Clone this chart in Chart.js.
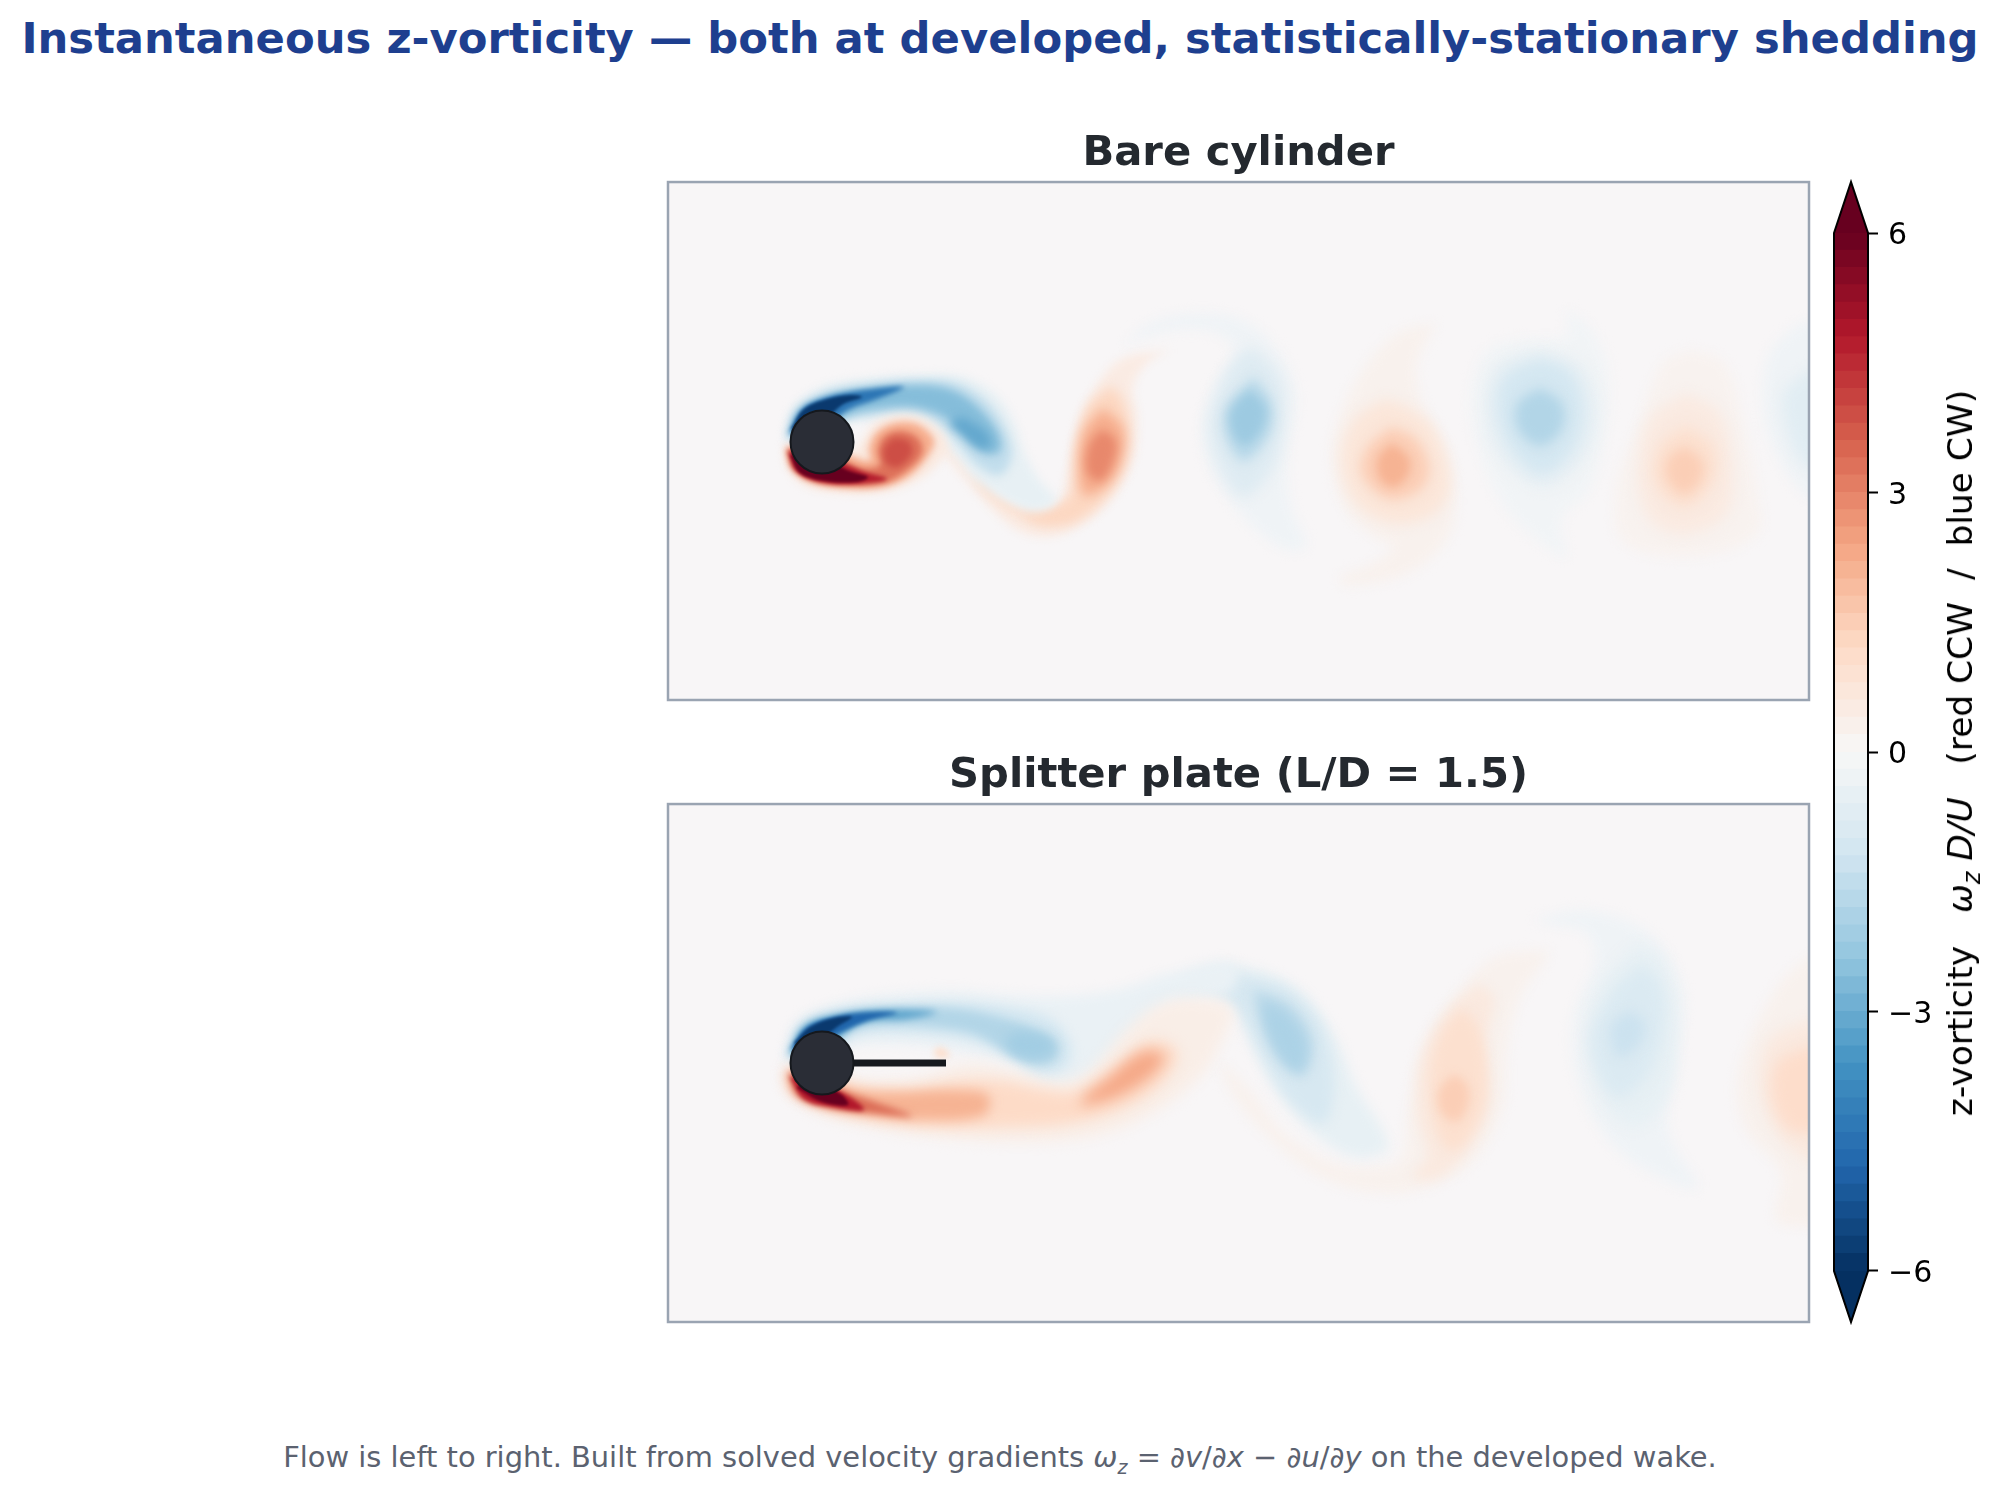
<!DOCTYPE html>
<html><head><meta charset="utf-8">
<script src="https://cdn.jsdelivr.net/npm/chart.js@4"></script>
<style>
html,body{margin:0;padding:0;background:#fff;width:2000px;height:1494px;overflow:hidden;font-family:"DejaVu Sans"}
canvas{position:absolute}
.t{position:absolute;white-space:nowrap}
#sup{left:0;width:2000px;text-align:center;top:15px;font-size:43.3px;font-weight:bold;color:#1e3f8f;line-height:46px}
#foot{left:0;width:2000px;text-align:center;top:1441px;font-size:28.9px;color:#5b6270;line-height:32px}
#foot sub{font-size:19px;line-height:0}
#cb{left:1960px;top:753px;transform:translate(-50%,-50%) rotate(-90deg);font-size:34.4px;color:#000;line-height:36px}
#cb sub{font-size:24px;line-height:0}
</style></head><body>
<div id="sup" class="t">Instantaneous z-vorticity — both at developed, statistically-stationary shedding</div>
<canvas id="p1" width="1145" height="578" style="left:666px;top:124px"></canvas>
<canvas id="p2" width="1145" height="578" style="left:666px;top:746px"></canvas>
<canvas id="c" width="130" height="1170" style="left:1830px;top:170px"></canvas>
<div id="cb" class="t">z-vorticity&nbsp;&nbsp;&nbsp;<i>ω<sub>z</sub> D/U</i>&nbsp;&nbsp;&nbsp;(red CCW&nbsp;&nbsp;/&nbsp;&nbsp;blue CW)</div>
<div id="foot" class="t">Flow is left to right. Built from solved velocity gradients <i>ω<sub>z</sub></i> = ∂<i>v</i>/∂<i>x</i> − ∂<i>u</i>/∂<i>y</i> on the developed wake.</div>
<script>
/* Colour-bar */
const cbLevels=[-6,-5.8,-5.6,-5.4,-5.2,-5,-4.8,-4.6,-4.4,-4.2,-4,-3.8,-3.6,-3.4,-3.2,-3,-2.8,-2.6,-2.4,-2.2,-2,-1.8,-1.6,-1.4,-1.2,-1,-0.8,-0.6,-0.4,-0.2,0,0.2,0.4,0.6,0.8,1,1.2,1.4,1.6,1.8,2,2.2,2.4,2.6,2.8,3,3.2,3.4,3.6,3.8,4,4.2,4.4,4.6,4.8,5,5.2,5.4,5.6,5.8,6];
const cbTicks=[-6,-3,0,3,6];
const rdbuStops=['#053061','#2166ac','#4393c3','#92c5de','#d1e5f0','#f7f7f7','#fddbc7','#f4a582','#d6604d','#b2182b','#67001f'];

/* Panel 1: bare cylinder — contour outlines, grid units */
const bareBlueA=[[112,258],[120,226],[150,204],[198,195],[248,192],[288,193],[322,210],[342,238],[352,268],[366,295],[384,318],[362,328],[332,316],[305,298],[285,274],[266,254],[243,240],[215,238],[190,238],[170,240],[150,250],[130,256]];
const bareBlueB=[[115,256],[124,228],[152,210],[198,201],[248,197],[284,200],[314,218],[333,245],[340,272],[328,292],[305,282],[281,255],[256,235],[230,230],[198,232],[175,236],[150,248],[130,254]];
const bareBlueC=[[116,254],[127,228],[155,213],[200,205],[248,202],[280,207],[306,224],[326,250],[328,268],[312,270],[292,250],[270,233],[240,224],[205,226],[178,232],[150,246],[130,252]];
const bareBlueCore=[[291,234],[315,250],[318,264],[305,264],[288,250],[278,239]];
const bareBlueD=[[117,250],[130,226],[155,214],[191,207],[232,204],[205,216],[178,226],[150,244],[130,250]];
const bareBlueE=[[119,246],[132,226],[155,216],[178,212],[190,214],[170,222],[150,240],[130,248]];
const bareRedA=[[112,262],[115,284],[134,303],[170,310],[205,310],[233,303],[260,287],[275,264],[268,247],[248,234],[225,232],[203,240],[190,258],[180,270],[150,270],[130,265]];
const bareRedB=[[114,264],[120,285],[140,299],[175,305],[210,304],[236,294],[256,273],[262,257],[245,241],[222,240],[204,250],[197,265],[198,278],[170,270],[140,265]];
const bareRedC=[[115,266],[122,286],[144,298],[178,302],[212,300],[234,288],[250,270],[246,255],[228,248],[212,254],[206,268],[208,282],[190,285],[160,272],[135,266]];
const bareRedCore=[[221,255],[236,258],[240,270],[226,284],[214,280],[212,266]];
const bareRedD=[[116,268],[124,288],[148,299],[185,301],[215,296],[190,288],[160,275],[135,268]];
const bareRedE=[[118,272],[128,290],[152,298],[185,299],[196,294],[175,287],[155,275],[135,270]];
const bareRed2A=[[498,167],[448,177],[418,214],[405,250],[395,294],[388,320],[358,325],[328,314],[305,290],[285,267],[270,257],[265,260],[291,294],[318,324],[345,347],[375,354],[405,344],[438,317],[461,277],[465,234],[461,204],[475,180]];
const bareSheet=[[308,287],[331,314],[361,327],[388,324],[401,310],[398,330],[375,339],[348,334],[325,320],[305,299]];
const bareRed2B=[[438,203],[415,225],[403,267],[398,314],[375,328],[351,333],[375,343],[407,337],[438,309],[454,276],[456,237],[448,212]];
const bareRed2C=[[431,225],[412,248],[407,284],[412,312],[433,304],[449,279],[451,245]];
const bareRed2D=[[430,246],[417,262],[415,289],[428,298],[440,282],[444,258]];
const bareBlue3A=[[450,164],[478,140],[530,130],[577,140],[610,174],[624,214],[615,274],[619,324],[634,364],[610,365],[572,334],[539,287],[530,240],[544,200],[563,170],[544,150],[506,147],[473,154]];
const bareBlue3B=[[582,164],[608,194],[612,240],[601,284],[572,314],[549,287],[537,244],[549,200],[565,174]];
const bareBlue3C=[[582,194],[600,220],[598,250],[572,278],[554,254],[554,224]];
const bareBlue3D=[[577,207],[593,224],[589,247],[572,262],[560,247],[560,227]];
const bareRed4A=[[764,140],[726,150],[693,184],[669,230],[660,274],[674,327],[702,354],[721,364],[702,380],[667,395],[674,402],[726,394],[764,370],[782,337],[778,280],[749,217],[745,180]];
const bareRed4B=[[712,216],[681,238],[669,280],[685,322],[726,341],[767,327],[778,294],[762,245],[735,224]];
const bareRed4C=[[719,244],[695,265],[690,292],[716,316],[748,307],[757,284],[743,255]];
const bareRed4D=[[720,260],[706,275],[708,296],[722,304],[736,292],[737,275]];
const bareBlue5A=[[894,125],[922,150],[936,190],[934,247],[917,307],[889,337],[894,374],[875,364],[837,330],[809,274],[799,217],[813,170],[846,157],[894,154],[896,140]];
const bareBlue5B=[[868,166],[825,182],[813,220],[825,269],[870,304],[911,276],[925,230],[911,185]];
const bareBlue5C=[[868,176],[834,192],[825,224],[839,266],[870,291],[901,266],[911,224],[897,188]];
const bareBlue5D=[[868,205],[846,220],[846,246],[868,263],[890,246],[890,220]];
const bareRed6A=[[1019,167],[991,180],[967,240],[944,307],[953,360],[1024,374],[1085,350],[1085,307],[1071,240],[1052,180]];
const bareRed6B=[[1014,210],[978,235],[966,294],[978,337],[1014,351],[1055,330],[1060,274],[1046,228]];
const bareRed6C=[[1014,243],[988,262],[983,299],[1012,324],[1041,299],[1041,262]];
const bareRed6D=[[1012,263],[995,278],[997,299],[1013,311],[1029,297],[1030,278]];
const bareBlue7A=[[1127,140],[1098,170],[1091,220],[1103,267],[1136,314],[1170,314],[1170,140]];
const bareBlue7B=[[1136,187],[1112,210],[1117,254],[1136,284],[1170,284],[1170,187]];
const bareContours=[bareBlue3A,bareBlue3B,bareBlue3C,bareBlue3D,bareRed4A,bareRed4B,bareRed4C,bareRed4D,bareBlue5A,bareBlue5B,bareBlue5C,bareBlue5D,bareRed6A,bareRed6B,bareRed6C,bareRed6D,bareBlue7A,bareBlue7B,bareRed2A,bareSheet,bareRed2B,bareRed2C,bareRed2D,bareBlueA,bareBlueB,bareBlueC,bareBlueCore,bareBlueD,bareBlueE,bareRedA,bareRedB,bareRedC,bareRedCore,bareRedD,bareRedE];
const bareLevels=[-0.25,-0.8,-1.7,-2.2,0.25,0.75,1.5,2.1,-0.2,-0.55,-1.1,-1.8,0.2,0.55,1,1.5,-0.25,-0.7,0.5,1,1.3,2.2,2.9,-0.5,-1.5,-2.6,-3.1,-4.4,-5.8,0.6,2.2,3.3,3.9,4.7,6];
const bareBlur=[6,7,6,5,6,7,6,5,6,7,7,6,6,7,7,6,6,7,5,5,6,6,5,5,5,4.5,5,2.5,1.5,4,3.5,3,3,2,1.5];

/* Panel 2: splitter plate */
const plateBlueA=[[112,255],[124,218],[160,200],[212,190],[284,186],[337,190],[391,191],[444,185],[498,168],[560,158],[560,186],[498,200],[459,238],[422,270],[391,283],[360,277],[338,260],[305,250],[277,245],[240,240],[190,240],[165,245],[135,255]];
const plateBlueB=[[114,254],[128,220],[164,205],[219,199],[284,197],[337,202],[377,213],[398,236],[396,260],[369,270],[341,254],[312,240],[277,232],[230,228],[187,230],[160,245],[135,253]];
const plateBlueC=[[116,252],[131,221],[166,208],[219,203],[277,203],[319,210],[358,222],[385,238],[382,256],[358,258],[330,244],[302,229],[262,222],[212,220],[180,226],[155,245],[135,250]];
const plateBlueCore=[[350,226],[375,232],[382,245],[362,254],[338,246],[335,232]];
const plateBlueD=[[117,248],[133,221],[166,210],[212,205],[265,207],[235,214],[190,218],[155,240],[132,248]];
const plateBlueE=[[119,244],[135,222],[166,211],[200,207],[225,208],[195,216],[160,232],[135,246]];
const plateBlueF=[[122,238],[138,222],[162,213],[180,212],[165,222],[145,238],[130,244]];
const plateRedA=[[112,262],[115,284],[144,306],[196,321],[266,332],[355,337],[428,330],[484,306],[528,272],[550,236],[560,204],[527,194],[489,199],[455,224],[417,266],[387,278],[342,266],[296,258],[248,272],[194,275],[170,270],[135,266]];
const plateRedB=[[114,264],[118,284],[146,301],[198,314],[266,322],[337,322],[398,318],[457,300],[495,272],[505,246],[478,236],[441,262],[405,286],[369,284],[330,276],[287,276],[241,284],[202,284],[170,278],[135,268]];
const plateRedC=[[115,266],[122,287],[150,300],[198,310],[248,315],[312,310],[316,290],[277,285],[227,287],[184,285],[155,275],[135,268]];
const plateRedHump=[[408,302],[444,292],[480,270],[492,250],[470,247],[435,274],[414,290]];
const plateRedD=[[116,268],[126,291],[153,302],[198,308],[240,311],[200,296],[170,285],[150,275],[135,268]];
const plateRedE=[[118,272],[132,294],[160,302],[192,305],[178,292],[153,280],[135,272]];
const plateRedF=[[125,283],[150,297],[176,300],[170,290],[150,280],[132,276]];
const plateTip=[[262,245],[269,242],[278,250],[273,253],[264,252]];
const plateBlue2A=[[508,175],[549,160],[587,165],[628,185],[661,228],[686,285],[711,325],[715,345],[682,352],[641,328],[603,285],[578,238],[562,202],[533,190],[508,193]];
const plateBlue2B=[[570,170],[612,182],[648,218],[662,275],[652,318],[620,298],[592,255],[567,207],[545,187],[520,178]];
const plateBlue2C=[[580,184],[618,200],[640,235],[632,270],[610,258],[592,225]];
const plateBlue2D=[[590,196],[614,208],[634,238],[628,266],[612,256],[595,225]];
const plateRed3A=[[877,145],[823,152],[782,192],[748,245],[736,308],[728,355],[699,362],[661,358],[612,328],[578,285],[549,258],[562,292],[603,338],[649,372],[703,388],[757,382],[802,355],[831,302],[835,245],[848,192],[873,155]];
const plateRed3B=[[807,178],[775,206],[750,252],[745,308],[755,352],[740,372],[767,372],[801,338],[818,295],[814,238],[822,193]];
const plateRed3C=[[790,203],[770,226],[758,268],[764,324],[782,346],[809,310],[814,262],[805,220]];
const plateRed3D=[[782,269],[768,283],[768,305],[784,317],[796,300],[795,280]];
const plateBlue4A=[[860,115],[910,105],[960,118],[993,145],[1012,195],[1001,262],[997,328],[1026,382],[993,375],[939,338],[906,275],[902,212],[923,155],[914,128],[881,120]];
const plateBlue4B=[[964,138],[927,182],[916,238],[935,302],[964,322],[997,288],[1005,212],[989,152]];
const plateBlue4C=[[968,160],[939,188],[918,238],[943,292],[977,268],[993,208],[985,172]];
const plateBlue4D=[[958,205],[939,222],[947,252],[968,238],[972,218]];
const plateRed5A=[[1136,152],[1105,182],[1068,262],[1072,322],[1109,368],[1105,415],[1136,422],[1170,422],[1170,152]];
const plateRed5B=[[1136,215],[1097,235],[1088,282],[1105,328],[1136,355],[1170,355],[1170,215]];
const plateRed5C=[[1136,242],[1105,258],[1101,295],[1117,325],[1136,328],[1170,328],[1170,242]];
const plateContours=[plateRed5A,plateRed5B,plateRed5C,plateBlue4A,plateBlue4B,plateBlue4C,plateBlue4D,plateRed3A,plateRed3B,plateRed3C,plateRed3D,plateBlue2A,plateBlue2B,plateBlue2C,plateBlue2D,plateBlueA,plateBlueB,plateBlueC,plateBlueCore,plateBlueD,plateBlueE,plateBlueF,plateRedA,plateRedB,plateRedC,plateRedHump,plateRedD,plateRedE,plateRedF,plateTip];
const plateLevels=[0.25,0.6,1.1,-0.25,-0.5,-0.9,-1.3,0.25,0.6,1,1.5,-0.5,-1,-1.6,-1.9,-0.4,-1.1,-1.8,-2.1,-3.2,-4.8,-5.8,0.4,1.2,2.1,2.3,3.4,4.8,6,1];
const plateBlur=[6,7,7,6,7,7,6,6,6,6,5,6,6,6,6,6,5.5,5,6,3.5,2,1.5,7,7,6,7,3.5,2,1.5,3];

/* Body geometry, grid units */
const bareCylinder=[[150,259]];
const plateCylinder=[[150,258]];
const plateSplitter=[[176,258],[274,258]];
const gridX=[-4,1137], gridY=[-1,517];

function cmap(v){
  const t=Math.max(0,Math.min(0.999999,(v+6)/12))*10, i=Math.floor(t), f=t-i;
  const h=s=>[1,3,5].map(k=>parseInt(s.substr(k,2),16));
  const a=h(rdbuStops[i]),b=h(rdbuStops[i+1]);
  return 'rgb('+a.map((c,k)=>Math.round(c+(b[k]-c)*f)).join(',')+')';
}
const pt=a=>a.map(([x,y])=>({x,y}));
const panelPlugin={id:'panel',
  beforeDraw(ch){const a=ch.chartArea,c=ch.ctx;c.save();c.fillStyle='#f8f6f7';c.fillRect(a.left,a.top,a.right-a.left,a.bottom-a.top);c.restore();},
  beforeDatasetsDraw(ch){const m=ch.getSortedVisibleDatasetMetas();const l=m[m.length-1];ch.ctx.filter=l.controller.getDataset().blurPx?`blur(${l.controller.getDataset().blurPx}px)`:'none';},
  afterDatasetDraw(ch,args){const m=ch.getSortedVisibleDatasetMetas();const p=m.indexOf(args.meta);const n=m[p-1];const b=n?n.controller.getDataset().blurPx:0;ch.ctx.filter=b?`blur(${b}px)`:'none';},
  afterDatasetsDraw(ch){ch.ctx.filter='none';},
  afterDraw(ch){const a=ch.chartArea,c=ch.ctx;c.save();c.strokeStyle='#9aa4b2';c.lineWidth=2.5;c.strokeRect(a.left,a.top,a.right-a.left,a.bottom-a.top);c.restore();}
};
function panel(id,title,contours,levels,blur,cyl,splitter){
  const ds=contours.map((p,i)=>({data:pt(p.concat([p[0]])),showLine:true,fill:'shape',backgroundColor:cmap(levels[i]),borderWidth:0,pointRadius:0,tension:0.35,blurPx:blur[i]}));
  if(splitter) ds.push({data:pt(splitter),showLine:true,fill:false,borderColor:'#16191e',borderWidth:7,pointRadius:0,borderCapStyle:'butt',blurPx:0,tension:0});
  ds.push({data:pt(cyl),showLine:false,fill:false,pointRadius:31.5,pointBackgroundColor:'#2a2d36',pointBorderColor:'#15181d',pointBorderWidth:2,blurPx:0});
  ds.forEach((d,i)=>d.order=ds.length-i);
  new Chart(document.getElementById(id),{type:'scatter',data:{datasets:ds},plugins:[panelPlugin],options:{
    responsive:false,animation:false,events:[],
    layout:{autoPadding:false,padding:{left:2,right:2,bottom:2,top:0}},
    scales:{x:{type:'linear',display:false,min:gridX[0],max:gridX[1]},y:{type:'linear',display:false,reverse:true,min:gridY[0],max:gridY[1]}},
    plugins:{legend:{display:false},tooltip:{enabled:false},
      title:{display:true,text:title,color:'#24292f',font:{family:'DejaVu Sans',size:41.7,weight:'bold',lineHeight:1.2},padding:{top:5,bottom:3}}}
  }});
}
panel('p1','Bare cylinder',bareContours,bareLevels,bareBlur,bareCylinder,null);
panel('p2','Splitter plate (L/D = 1.5)',plateContours,plateLevels,plateBlur,plateCylinder,plateSplitter);

/* Colour bar as floating bars */
const cbDatasets=cbLevels.slice(0,-1).map((lo,i)=>({data:[[lo,cbLevels[i+1]]],backgroundColor:cmap((lo+cbLevels[i+1])/2),borderWidth:0,grouped:false,barPercentage:1,categoryPercentage:1,inflateAmount:0.6}));
const tipPlugin={id:'tips',afterDatasetsDraw(ch){
  const a=ch.chartArea,c=ch.ctx,s=ch.scales.y,t=s.getPixelForValue(6),b=s.getPixelForValue(-6),mid=(a.left+a.right)/2;
  c.save();c.lineWidth=2;c.strokeStyle='#000';c.lineJoin='miter';
  c.fillStyle='#67001f';c.beginPath();c.moveTo(a.left,t);c.lineTo(mid,a.top);c.lineTo(a.right,t);c.closePath();c.fill();
  c.fillStyle='#053061';c.beginPath();c.moveTo(a.left,b);c.lineTo(mid,a.bottom);c.lineTo(a.right,b);c.closePath();c.fill();
  c.beginPath();c.moveTo(a.left,t);c.lineTo(mid,a.top);c.lineTo(a.right,t);c.lineTo(a.right,b);c.lineTo(mid,a.bottom);c.lineTo(a.left,b);c.closePath();c.stroke();
  c.restore();}};
new Chart(document.getElementById('c'),{type:'bar',data:{labels:['ωz'],datasets:cbDatasets},plugins:[tipPlugin],options:{
  responsive:false,animation:false,events:[],
  layout:{autoPadding:false,padding:{left:4,right:0,top:12,bottom:18}},
  scales:{x:{display:false},
    y:{position:'right',min:-6.59,max:6.59,border:{display:false},
      afterFit(s){s.width=92;s.paddingTop=0;s.paddingBottom=0;},
      afterBuildTicks(s){s.ticks=cbTicks.map(v=>({value:v}));},
      grid:{drawOnChartArea:false,drawTicks:true,tickLength:10,tickColor:'#000',tickWidth:2},
      ticks:{color:'#000',padding:10,labelOffset:3.5,font:{family:'DejaVu Sans',size:30},callback:v=>String(v).replace('-','\u2212')}}},
  plugins:{legend:{display:false},tooltip:{enabled:false},title:{display:false}}
}});
</script>
</body></html>
